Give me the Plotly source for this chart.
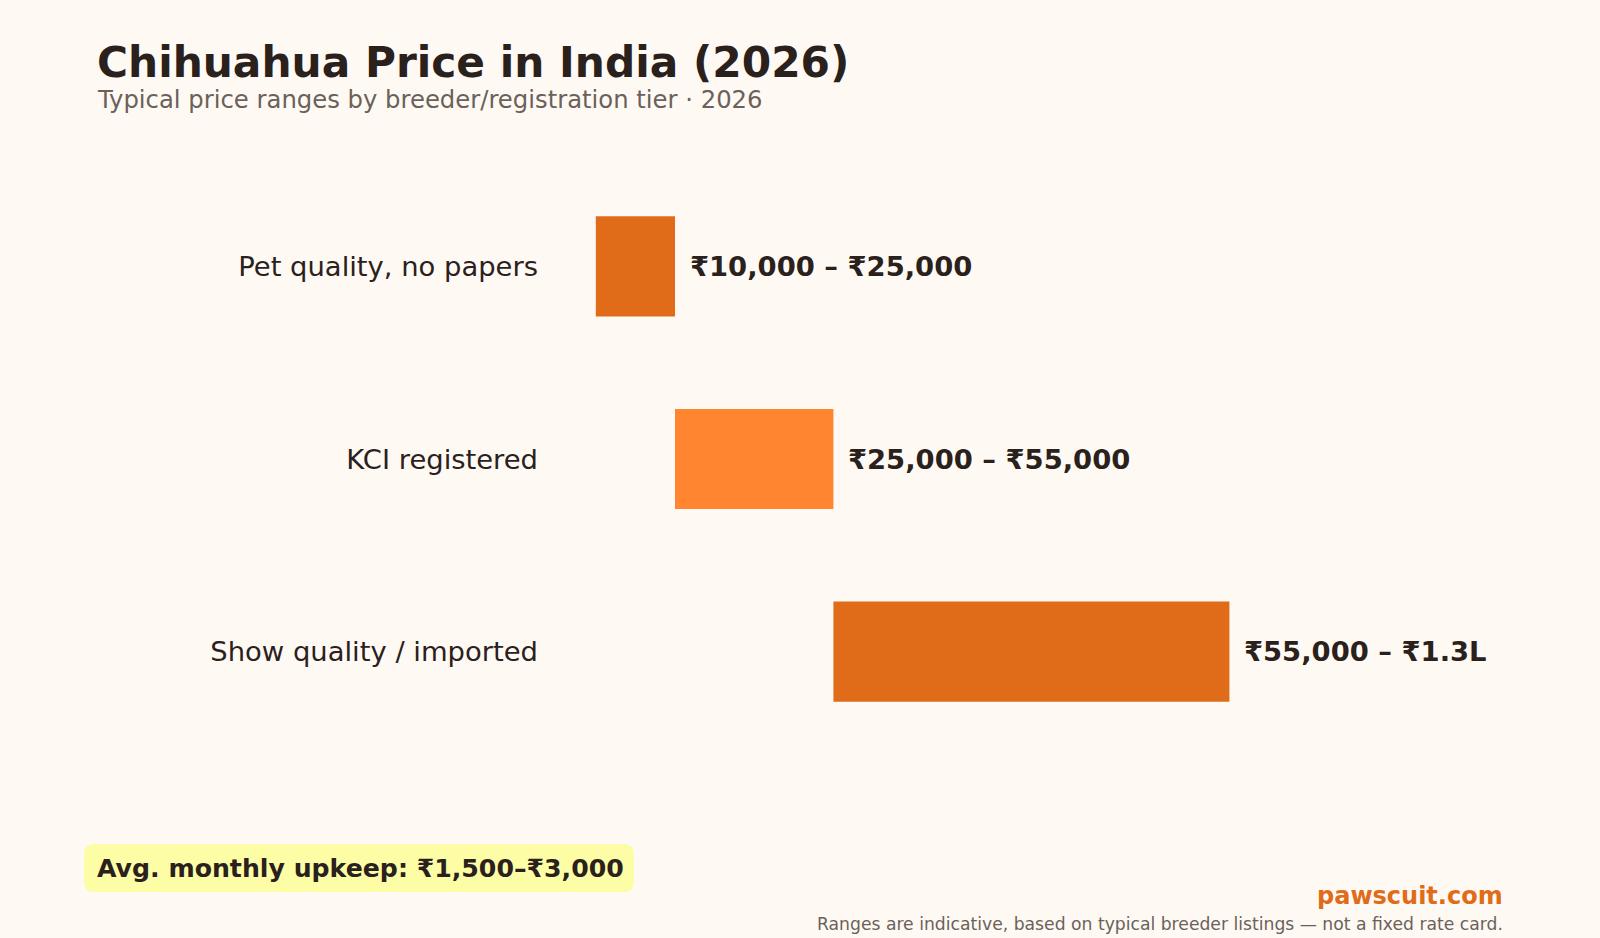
import plotly.graph_objects as go

# ---- data ----
categories = ["Pet quality, no papers", "KCI registered", "Show quality / imported"]
low_values = [10000, 25000, 55000]
high_values = [25000, 55000, 130000]
range_labels = ["₹10,000 – ₹25,000", "₹25,000 – ₹55,000", "₹55,000 – ₹1.3L"]
bar_colors = ["#E06C1A", "#FF8530", "#E06C1A"]

title_text = "Chihuahua Price in India (2026)"
subtitle_text = "Typical price ranges by breeder/registration tier · 2026"
upkeep_text = "Avg. monthly upkeep: ₹1,500–₹3,000"
brand_text = "pawscuit.com"
footer_text = "Ranges are indicative, based on typical breeder listings — not a fixed rate card."

# ---- layout geometry ----
W, H = 1600, 938
ML, MR, MT, MB = 543, 96, 170, 190
PW = W - ML - MR
PH = H - MT - MB
FONT = "DejaVu Sans"
DARK = "#2A211C"
GREY = "#6B615A"
BG = "#FFF9F4"


def px(xp):
    return (xp - ML) / PW


def py(yp):
    return (H - MB - yp) / PH


fig = go.Figure()
fig.add_trace(go.Bar(
    y=categories,
    x=[h - l for l, h in zip(low_values, high_values)],
    base=low_values,
    orientation="h",
    width=0.52,
    marker=dict(color=bar_colors, line=dict(width=0)),
    hoverinfo="skip",
    showlegend=False,
))

annotations = []
for cat, h, lab in zip(categories, high_values, range_labels):
    annotations.append(dict(
        x=h, y=cat, xref="x", yref="y", text=f"<b>{lab}</b>",
        showarrow=False, xanchor="left", yanchor="middle", xshift=13,
        font=dict(family=FONT, size=27.4, color=DARK),
    ))

annotations += [
    dict(x=px(95), y=py(63), xref="paper", yref="paper", text=f"<b>{title_text}</b>",
         showarrow=False, xanchor="left", yanchor="middle",
         font=dict(family=FONT, size=42.3, color=DARK)),
    dict(x=px(95), y=py(100), xref="paper", yref="paper", text=subtitle_text,
         showarrow=False, xanchor="left", yanchor="middle",
         font=dict(family=FONT, size=24.3, color=GREY)),
    dict(x=px(95), y=py(868), xref="paper", yref="paper", text=f"<b>{upkeep_text}</b>",
         showarrow=False, xanchor="left", yanchor="middle",
         font=dict(family=FONT, size=25.2, color=DARK)),
    dict(x=px(1505), y=py(896), xref="paper", yref="paper", text=f"<b>{brand_text}</b>",
         showarrow=False, xanchor="right", yanchor="middle",
         font=dict(family=FONT, size=24, color="#E06C1A")),
    dict(x=px(1505), y=py(924), xref="paper", yref="paper", text=footer_text,
         showarrow=False, xanchor="right", yanchor="middle",
         font=dict(family=FONT, size=17.2, color=GREY)),
]

# rounded highlight box behind the upkeep note (paper coords)
x0, x1, y0, y1, r = 84, 634, 844, 892, 10
rx, ry = r / PW, r / PH
X0, X1, Y0, Y1 = px(x0), px(x1), py(y1), py(y0)
path = (f"M {X0+rx},{Y0} L {X1-rx},{Y0} Q {X1},{Y0} {X1},{Y0+ry} "
        f"L {X1},{Y1-ry} Q {X1},{Y1} {X1-rx},{Y1} L {X0+rx},{Y1} "
        f"Q {X0},{Y1} {X0},{Y1-ry} L {X0},{Y0+ry} Q {X0},{Y0} {X0+rx},{Y0} Z")

fig.update_layout(
    width=W, height=H,
    margin=dict(l=ML, r=MR, t=MT, b=MB, pad=0),
    paper_bgcolor=BG, plot_bgcolor=BG,
    font=dict(family=FONT, color=DARK),
    xaxis=dict(range=[0, 182000], visible=False, showgrid=False, zeroline=False, fixedrange=True),
    yaxis=dict(categoryorder="array", categoryarray=categories, autorange="reversed",
               showgrid=False, zeroline=False, showline=False, ticks="",
               tickfont=dict(family=FONT, size=27.4, color=DARK), ticklabelstandoff=4),
    annotations=annotations,
    shapes=[dict(type="path", path=path, xref="paper", yref="paper",
                 fillcolor="#FDFDA6", line=dict(width=0), layer="below")],
    bargap=0.48,
)

fig.write_html(
    "out.html",
    config={"displayModeBar": False},
    post_script="document.body.style.margin='0';document.body.style.background='#FFF9F4';",
)
